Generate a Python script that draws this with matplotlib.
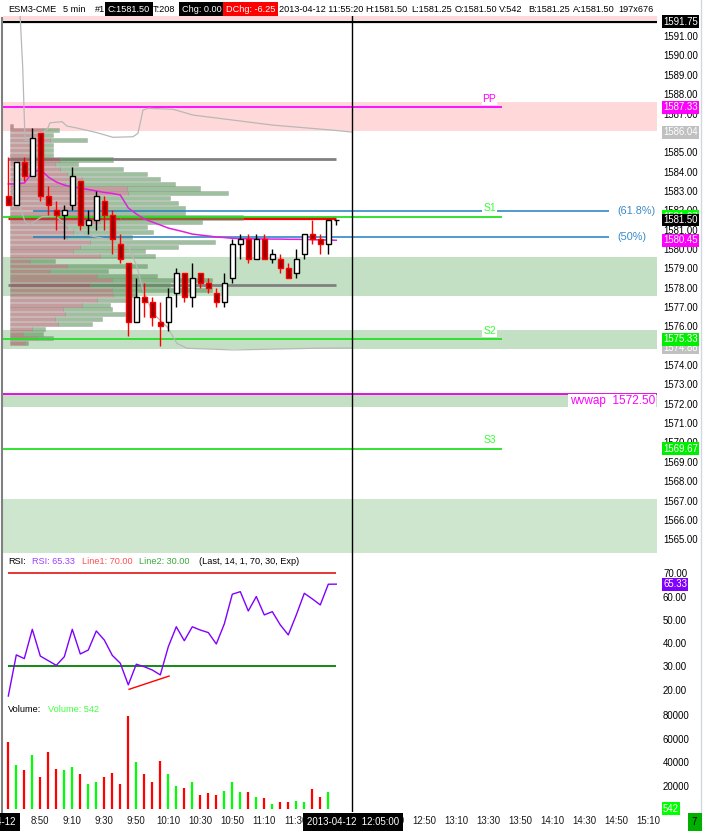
import numpy as np
import matplotlib
matplotlib.use('Agg')
import matplotlib.pyplot as plt
from matplotlib.patches import Rectangle

plt.rcParams['font.family'] = ['Liberation Sans', 'DejaVu Sans']
FS = 6.9
HFS = 6.6

# ---------------- data ----------------
times = ['8:30', '8:35', '8:40', '8:45', '8:50', '8:55', '9:00', '9:05', '9:10', '9:15', '9:20', '9:25',
         '9:30', '9:35', '9:40', '9:45', '9:50', '9:55', '10:00', '10:05', '10:10', '10:15', '10:20', '10:25',
         '10:30', '10:35', '10:40', '10:45', '10:50', '10:55', '11:00', '11:05', '11:10', '11:15', '11:20', '11:25',
         '11:30', '11:35', '11:40', '11:45', '11:50', '11:55']
opens = [1582.75, 1582.25, 1584.50, 1583.75, 1586.00, 1582.75, 1582.00, 1581.75, 1582.25, 1583.50, 1581.25, 1581.50,
         1582.50, 1581.75, 1580.25, 1579.25, 1576.25, 1577.50, 1577.25, 1576.25, 1576.25, 1577.75, 1578.75, 1577.50,
         1578.75, 1578.25, 1577.75, 1577.25, 1578.50, 1580.25, 1580.50, 1579.50, 1580.50, 1579.50, 1579.50, 1579.00,
         1578.75, 1579.75, 1580.75, 1580.50, 1580.25, 1581.50]
highs = [1584.75, 1584.50, 1584.75, 1586.25, 1586.00, 1583.25, 1582.50, 1582.25, 1584.25, 1583.50, 1582.00, 1583.00,
         1582.75, 1582.00, 1580.75, 1579.25, 1578.50, 1578.25, 1577.50, 1577.25, 1578.00, 1579.00, 1578.75, 1579.25,
         1578.75, 1578.50, 1578.00, 1578.75, 1580.50, 1580.75, 1580.75, 1580.75, 1580.75, 1580.00, 1579.75, 1579.25,
         1580.00, 1580.75, 1581.50, 1580.75, 1581.50, 1581.50]
lows = [1582.25, 1582.25, 1583.50, 1583.75, 1582.50, 1581.75, 1581.00, 1580.50, 1582.00, 1581.00, 1580.75, 1581.00,
        1581.00, 1579.75, 1579.25, 1575.50, 1576.25, 1576.50, 1576.00, 1575.00, 1575.75, 1577.00, 1577.25, 1577.00,
        1578.00, 1577.75, 1577.00, 1577.00, 1578.25, 1579.50, 1579.25, 1579.50, 1579.50, 1579.25, 1578.75, 1578.50,
        1578.50, 1579.50, 1580.25, 1579.75, 1579.75, 1581.25]
closes = [1582.25, 1584.50, 1583.75, 1585.75, 1582.75, 1582.25, 1581.75, 1582.00, 1583.75, 1581.25, 1581.50, 1582.75,
          1581.75, 1580.50, 1579.50, 1576.25, 1577.50, 1577.25, 1576.50, 1576.00, 1577.50, 1578.75, 1577.50, 1578.50,
          1578.25, 1578.00, 1577.25, 1578.25, 1580.25, 1580.50, 1579.50, 1580.50, 1579.50, 1579.75, 1579.00, 1578.50,
          1579.50, 1580.75, 1580.50, 1580.25, 1581.50, 1581.50]
volumes = [57400, 37700, 33400, 46100, 27800, 48900, 34300, 33400, 36200, 30100, 21600, 23600,
           27800, 31200, 21600, 79400, 40500, 30100, 23600, 41100, 30100, 19900, 18200, 23600,
           12300, 14000, 12300, 15900, 23600, 15100, 15100, 10600, 9700, 4700, 6600, 6600,
           7500, 6600, 17400, 10600, 15100, 542]
rsi = [17.2, 34.9, 33.3, 45.9, 34.4, 32.4, 30.4, 34.1, 45.9, 35.3, 37.0, 45.2,
       41.3, 34.7, 31.3, 22.0, 30.9, 29.8, 28.4, 26.3, 38.4, 47.0, 41.0, 47.0,
       45.6, 44.5, 39.6, 48.2, 61.0, 62.1, 53.8, 60.0, 52.1, 53.5, 47.8, 43.5,
       52.1, 61.4, 59.0, 56.4, 65.3, 65.33]
vwap_dev = [1583.36, 1583.36, 1583.41, 1583.93, 1584.11, 1583.72, 1583.46, 1583.30, 1583.20, 1583.15, 1583.07, 1583.00,
            1582.92, 1582.87, 1582.79, 1582.12, 1581.81, 1581.55, 1581.39, 1581.24, 1581.08, 1580.98, 1580.88, 1580.77,
            1580.72, 1580.67, 1580.62, 1580.59, 1580.55, 1580.53, 1580.53, 1580.52, 1580.52, 1580.51, 1580.51, 1580.50,
            1580.50, 1580.49, 1580.48, 1580.47, 1580.46, 1580.45]
# volatility band (bar-index position, price)
band_up_x = [1.46, 1.8, 2.09, 3.09, 4.34, 4.84, 5.21, 6.71, 7.34, 8.59, 11.09, 13.09, 15.59, 16.21, 16.84, 17.46,
             20.59, 23.09, 28.09, 33.09, 40.59, 43.0]
band_up = [1592.2, 1589.4, 1585.63, 1585.54, 1586.06, 1586.15, 1586.52, 1586.58, 1586.35, 1586.25, 1586.01, 1585.77,
           1585.80, 1585.98, 1587.18, 1587.27, 1587.22, 1586.92, 1586.66, 1586.40, 1586.14, 1586.04]
band_lo_x = [0.6, 1.46, 2.09, 2.71, 3.59, 4.21, 5.84, 7.09, 7.71, 9.84, 14.84, 16.09, 16.84, 18.09, 19.84, 21.09,
             22.34, 28.09, 38.59, 43.0]
band_lo = [1583.0, 1582.18, 1581.41, 1581.24, 1581.50, 1581.67, 1581.70, 1581.33, 1581.07, 1580.72, 1580.29, 1579.08,
           1577.88, 1576.67, 1575.98, 1575.12, 1574.87, 1574.78, 1574.87, 1574.88]
# volume profile, price levels bottom-up (0.25 tick)
prof_levels = [1575.00 + 0.25 * k for k in range(46)]
prof_bid = [1500, 2700, 1300, 2200, 4800, 4500, 5500, 5300, 7200, 8700, 10300, 10200, 8000, 10200, 8700, 4000,
            5700, 2000, 9000, 6300, 7000, 8000, 5700, 6300, 5700, 9000, 11000, 9000, 9000, 9000, 9000, 11800,
            11700, 5500, 7200, 5700, 5000, 4500, 5000, 2500, 3000, 3200, 4000, 3000, 3300, 300]
prof_ask = [300, 1600, 2000, 1300, 3400, 4700, 6000, 4900, 2800, 3000, 2400, 10000, 8000, 10000, 6000, 5800,
            8000, 2500, 5500, 7200, 9800, 12500, 6500, 8000, 8000, 10200, 12300, 8500, 8500, 7800, 7000, 10000,
            7300, 11000, 7800, 8000, 6300, 2300, 5300, 1800, 1300, 1100, 3700, 1300, 1600, 0]
poc, vah, val = 1581.50, 1584.50, 1578.00
pivots = {'PP': 1587.33, 'S1': 1581.67, 'S2': 1575.33, 'S3': 1569.67}
fib_hi, fib_lo, fib_ratios = 1586.25, 1575.00, [0.618, 0.5]
wvwap = 1572.50
day_high = 1591.75
zones_pink = [(1586.10, 1587.60), (1591.85, 1593.00)]
zones_green = [(1577.58, 1579.57), (1574.83, 1575.81), (1571.85, 1572.52), (1563.5, 1567.08)]
rsi_hi, rsi_lo = 70.0, 30.0
div_x, div_y = [15.1, 20.1], [20.1, 25.8]
xtick_labels = ['8:50', '9:10', '9:30', '9:50', '10:10', '10:30', '10:50', '11:10', '11:30', '11:50', '12:10',
                '12:30', '12:50', '13:10', '13:30', '13:50', '14:10', '14:30', '14:50', '15:10']

# ---------------- layout ----------------
W, H = 704, 831
fig = plt.figure(figsize=(W / 100, H / 100), dpi=100)
fig.patch.set_facecolor('white')


def rect(l, t, r, b):
    return [l / W, 1 - b / H, (r - l) / W, (b - t) / H]


axp = fig.add_axes(rect(3, 16, 657, 553))
axr = fig.add_axes(rect(3, 553, 657, 700))
axv = fig.add_axes(rect(3, 700, 657, 812))
XL = (-0.6625, 81.09)
for ax in (axp, axr, axv):
    ax.set_xlim(*XL)
    for s in ax.spines.values():
        s.set_visible(False)
    ax.tick_params(axis='y', which='both', left=False, right=False, labelleft=False, labelright=True,
                   length=0, pad=4.3, labelsize=FS, labelcolor='black')
    ax.tick_params(axis='x', which='both', bottom=False, labelbottom=False, length=0)
axp.set_ylim(1564.287, 1592.04)
axr.set_ylim(15.50, 78.73)
axv.set_ylim(-2117, 92720)

idx = np.arange(len(closes))
last = len(closes) - 1
cross_i = times.index('11:55') + 2  # crosshair bar (12:05)

axp.set_yticks(np.arange(1565, 1592))
axp.yaxis.set_major_formatter(matplotlib.ticker.FormatStrFormatter('%.2f'))
axr.set_yticks([20, 30, 40, 50, 60, 70])
axr.yaxis.set_major_formatter(matplotlib.ticker.FormatStrFormatter('%.2f'))
axv.set_yticks([20000, 40000, 60000, 80000])
axv.yaxis.set_major_formatter(matplotlib.ticker.FormatStrFormatter('%d'))


def tmin(t):
    h, m = t.split(':')
    return int(h) * 60 + int(m)


t0 = tmin(times[0])
axv.set_xticks([(tmin(t) - t0) / 5 for t in xtick_labels])
axv.set_xticklabels(xtick_labels)
axv.tick_params(axis='x', labelbottom=True, pad=3.0, labelsize=FS, labelcolor='#1a1a1a')

# ---------------- price panel ----------------
for lo, hi in zones_pink:
    axp.axhspan(lo, hi, color='#FFD9D9', lw=0, zorder=0.5)
for k, (lo, hi) in enumerate(zones_green):
    axp.axhspan(lo, hi, color='#C4E0C4' if k < 3 else '#CEE6CE', lw=0, zorder=0.5)

axp.hlines([vah + 0.125, val + 0.125], 0, last, color='#808080', lw=2.0, zorder=1)
axp.hlines(poc + 0.125, 0, last, color='#FF0000', lw=2.3, zorder=1)

# volume profile
px_per_bar = 8.0
contracts_per_px = 100.0
x0 = 0.2
for lvl, b, a in zip(prof_levels, prof_bid, prof_ask):
    wb = b / contracts_per_px / px_per_bar
    wa = a / contracts_per_px / px_per_bar
    axp.add_patch(Rectangle((x0, lvl + 0.02), wb, 0.21, fc='#A05A5A', ec='#909090', lw=0.4, alpha=0.6, zorder=1.5))
    if wa > 0:
        axp.add_patch(Rectangle((x0 + wb, lvl + 0.02), wa, 0.21, fc='#5A985A', ec='#909090', lw=0.4,
                                alpha=0.6, zorder=1.5))

axp.axhline(day_high, color='black', lw=1.6, zorder=2)
axp.axhline(wvwap, color='#E000E0', lw=1.3, zorder=2)
piv_end = 61.7
for name, v in pivots.items():
    col = '#FF00FF' if name == 'PP' else '#22E022'
    axp.hlines(v, XL[0], piv_end, color=col, lw=1.3, zorder=2)
    axp.annotate(name, xy=(60.15, v), xycoords='data', xytext=(0, 8.5), textcoords='offset pixels',
                 ha='center', va='center', fontsize=FS + 0.6,
                 color='#FF00FF' if name == 'PP' else '#33FF33', zorder=6,
                 bbox=dict(boxstyle='square,pad=0.1', fc='white', ec='none'))
fib_end = 75.1
for r in fib_ratios:
    v = fib_lo + r * (fib_hi - fib_lo)
    axp.hlines(v, 3.09, fib_end, color='#1F7FC0', lw=1.1, zorder=2)
    axp.annotate('(%g%%)' % (r * 100), xy=(fib_end + 1.0, v), xycoords='data', ha='left', va='center',
                 fontsize=FS + 0.9, color='#3A8AC8', zorder=6)

axp.plot(band_up_x, band_up, color='#B8B8B8', lw=0.9, zorder=2)
axp.plot(band_lo_x, band_lo, color='#B8B8B8', lw=0.9, zorder=2)
axp.plot(idx, vwap_dev, color='#E020E0', lw=1.1, zorder=2.2)

bw = 0.62
for i, (o, h, l, c) in enumerate(zip(opens, highs, lows, closes)):
    up = c >= o
    wc = 'black' if up else '#FF0000'
    axp.vlines(i, l, h, color=wc, lw=1.0, zorder=3)
    if c == o:
        axp.hlines(c, i - bw / 2, i + bw / 2, color='black', lw=1.0, zorder=3.1)
    else:
        axp.add_patch(Rectangle((i - bw / 2, min(o, c)), bw, abs(c - o),
                                fc='white' if up else '#9A0000', ec='black' if up else '#FF0000',
                                lw=1.0, zorder=3.1))

axp.axvline(cross_i, color='black', lw=1.0, zorder=4)


def rlabel(ax, val, txt, bg, fg='white', fs=FS):
    ax.annotate(txt, xy=(1, val), xycoords=('axes fraction', 'data'), xytext=(6, 0),
                textcoords='offset pixels', ha='left', va='center', fontsize=fs, color=fg,
                annotation_clip=False, zorder=10,
                bbox=dict(boxstyle='square,pad=0.15', fc=bg, ec='none'))


rlabel(axp, day_high, '%.2f' % day_high, 'black')
rlabel(axp, pivots['PP'], '%.2f' % pivots['PP'], '#FF00FF')
rlabel(axp, band_up[-1], '%.2f' % band_up[-1], '#C0C0C0')
rlabel(axp, pivots['S1'], '%.2f' % pivots['S1'], '#00FF00')
rlabel(axp, closes[-1], '%.2f' % closes[-1], 'black')
rlabel(axp, vwap_dev[-1], '%.2f' % vwap_dev[-1], '#FF00FF')
rlabel(axp, band_lo[-1], '%.2f' % band_lo[-1], '#C0C0C0')
rlabel(axp, pivots['S2'], '%.2f' % pivots['S2'], '#00EE00')
rlabel(axp, pivots['S3'], '%.2f' % pivots['S3'], '#00EE00')

axp.annotate('wvwap  %.2f' % wvwap, xy=(1, wvwap), xycoords=('axes fraction', 'data'), xytext=(-2, -7),
             textcoords='offset pixels', ha='right', va='center', fontsize=FS + 1.6, color='#FF00FF',
             zorder=6, bbox=dict(boxstyle='square,pad=0.12', fc='white', ec='none'))

# ---------------- RSI panel ----------------
axr.hlines(rsi_hi, 0, last, color='#E00000', lw=1.1, zorder=2)
axr.hlines(rsi_lo, 0, last, color='#008000', lw=1.3, zorder=2)
axr.plot(idx, rsi, color='#8000FF', lw=1.0, zorder=3)
axr.plot(div_x, div_y, color='#FF0000', lw=1.0, zorder=3)
axr.axvline(cross_i, color='black', lw=1.0, zorder=4)
rlabel(axr, rsi[-1], '%.2f' % rsi[-1], '#8000FF')

# ---------------- Volume panel ----------------
vcols = ['#00FF00' if c >= o else '#FF0000' for o, c in zip(opens, closes)]
axv.vlines(idx, 0, volumes, colors=vcols, lw=1.6, zorder=2)
axv.axvline(cross_i, color='black', lw=1.0, zorder=4)
rlabel(axv, volumes[-1], '%d' % volumes[-1], '#00FF00')


def ftext(x, y, s, color='black', bg=None, ha='left', fs=HFS, pad=0.12):
    kw = {}
    if bg is not None:
        kw['bbox'] = dict(boxstyle='square,pad=%g' % pad, fc=bg, ec='none')
    fig.text(x / W, 1 - y / H, s, color=color, ha=ha, va='center', fontsize=fs, **kw)


hy = 9
ftext(8, hy, 'ESM3-CME')
ftext(63, hy, '5 min')
ftext(95, hy, '#1')
ftext(108, hy, 'C:%.2f' % closes[-1], 'white', 'black', pad=0.3)
ftext(153, hy, 'T:208')
ftext(182, hy, 'Chg: 0.00', 'white', 'black', pad=0.3)
ftext(226, hy, 'DChg: -6.25', 'white', '#FF0000', pad=0.3)
ftext(279, hy, '2013-04-12 11:55:20')
ftext(365, hy, 'H:%.2f' % highs[-1])
ftext(411, hy, 'L:%.2f' % lows[-1])
ftext(455, hy, 'O:%.2f' % opens[-1])
ftext(499, hy, 'V:%d' % volumes[-1])
ftext(528, hy, 'B:1581.25')
ftext(573, hy, 'A:1581.50')
ftext(618, hy, '197x676')

ry = 562
ftext(8, ry, 'RSI:')
ftext(32, ry, 'RSI: %.2f' % rsi[-1], '#9B40FF')
ftext(82, ry, 'Line1: %.2f' % rsi_hi, '#FF5050')
ftext(139, ry, 'Line2: %.2f' % rsi_lo, '#3CA83C')
ftext(199, ry, '(Last, 14, 1, 70, 30, Exp)')

vy = 709
ftext(8, vy, 'Volume:')
ftext(48, vy, 'Volume: %d' % volumes[-1], '#40FF40')

ftext(353, 822, '2013-04-12  12:05:00', 'white', 'black', ha='center', fs=FS, pad=0.45)
ftext(16, 822, '2013-04-12', 'white', 'black', ha='right', fs=FS, pad=0.45)
ftext(694.5, 822, '7', 'black', '#00B000', ha='center', fs=FS, pad=0.45)

fig.add_artist(plt.Line2D([1.5 / W, 1.5 / W], [1 - 18 / H, 1 - 812 / H], color='#808080', lw=1.5))
fig.add_artist(plt.Line2D([701 / W, 701 / W], [0, 1], color='#D0D8E0', lw=1.0))

fig.savefig('out.png', dpi=100, facecolor='white')
